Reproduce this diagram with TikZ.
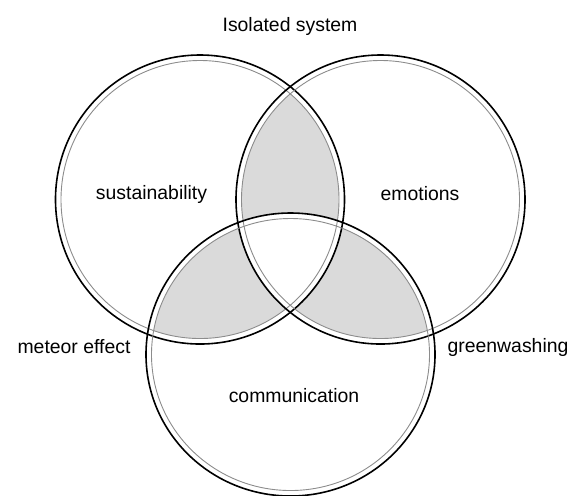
\documentclass[tikz,border=0pt]{standalone}
\usepackage{fontspec}
\setmainfont{Liberation Sans}
\definecolor{lensgray}{RGB}{218,218,218}
\definecolor{ringgray}{RGB}{140,140,140}

\begin{document}
\begin{tikzpicture}[x=0.5pt, y=-0.5pt,
  big/.style={x radius=72.25pt, y radius=72.25pt},
  small/.style={x radius=69.5pt, y radius=69.5pt},
  bigc/.style={x radius=72.25pt, y radius=70.75pt},
  smallc/.style={x radius=69.5pt, y radius=68pt},
  outer/.style={draw=black, line width=0.8pt},
  inner/.style={draw=ringgray, line width=0.45pt},
  lbl/.style={anchor=base, font=\fontsize{9.7}{12}\selectfont}]
  \useasboundingbox (0,0) rectangle (576,495);
  \coordinate (cs) at (200,199.5);
  \coordinate (ce) at (380.5,199.5);
  \coordinate (cc) at (290.5,354.5);
  % pairwise overlaps
  \begin{scope}
    \clip (cs) ellipse [small];
    \fill[lensgray] (ce) ellipse [small];
  \end{scope}
  \begin{scope}
    \clip (cc) ellipse [smallc];
    \fill[lensgray] (cs) ellipse [small];
    \fill[lensgray] (ce) ellipse [small];
  \end{scope}
  % middle stays white
  \begin{scope}
    \clip (cs) ellipse [big];
    \clip (ce) ellipse [big];
    \fill[white] (cc) ellipse [bigc];
  \end{scope}
  \foreach \c in {cs, ce} {
    \draw[outer] (\c) ellipse [big];
    \draw[inner] (\c) ellipse [small];
  }
  \draw[outer] (cc) ellipse [bigc];
  \draw[inner] (cc) ellipse [smallc];
  \node[lbl] (title) at (290,31) {Isolated system};
  \node[lbl] (sust) at (151.5,199) {sustainability};
  \node[lbl] (emo) at (420,200) {emotions};
  \node[lbl] (comm) at (294,402) {communication};
  \node[lbl] (meteor) at (74,353) {meteor effect};
  \node[lbl] (green) at (508,352) {greenwashing};
\end{tikzpicture}
\end{document}
